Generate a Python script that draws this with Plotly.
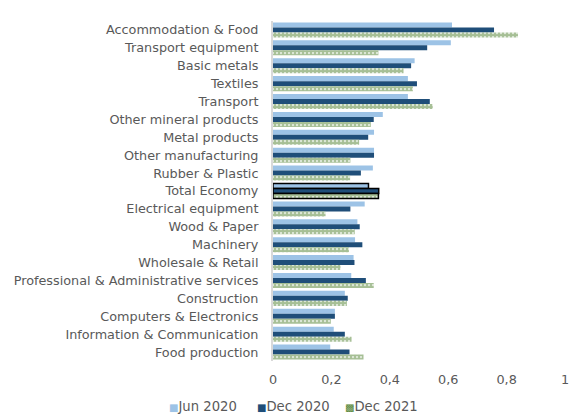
import plotly.graph_objects as go

categories = ["Accommodation & Food", "Transport equipment", "Basic metals", "Textiles", "Transport",
              "Other mineral products", "Metal products", "Other manufacturing", "Rubber & Plastic",
              "Total Economy", "Electrical equipment", "Wood & Paper", "Machinery", "Wholesale & Retail",
              "Professional & Administrative services", "Construction", "Computers & Electronics",
              "Information & Communication", "Food production"]
jun_2020 = [0.613, 0.609, 0.485, 0.462, 0.462, 0.376, 0.346, 0.346, 0.342, 0.327, 0.314, 0.289, 0.281,
            0.276, 0.268, 0.246, 0.212, 0.208, 0.196]
dec_2020 = [0.757, 0.528, 0.473, 0.493, 0.537, 0.345, 0.326, 0.346, 0.301, 0.362, 0.265, 0.297, 0.306,
            0.279, 0.318, 0.256, 0.212, 0.246, 0.262]
dec_2021 = [0.839, 0.361, 0.447, 0.479, 0.547, 0.335, 0.295, 0.265, 0.264, 0.361, 0.180, 0.280, 0.260,
            0.231, 0.345, 0.253, 0.198, 0.269, 0.310]
series_names = ["Jun 2020", "Dec 2020", "Dec 2021"]
x_ticks = [0, 0.2, 0.4, 0.6, 0.8, 1]

C_JUN, C_DEC20, C_DEC21 = "#9DC3E6", "#1F4E79", "#4E7F2C"
TXT = "#595959"
FS = 12.8

highlight = "Total Economy"
line_colors = ["black" if c == highlight else "rgba(0,0,0,0)" for c in categories]
line_widths = [1.5 if c == highlight else 0 for c in categories]

fig = go.Figure()
fig.add_trace(go.Bar(y=categories, x=jun_2020, name=series_names[0], orientation="h",
                     marker=dict(color=C_JUN, line=dict(color=line_colors, width=line_widths))))
fig.add_trace(go.Bar(y=categories, x=dec_2020, name=series_names[1], orientation="h",
                     marker=dict(color=C_DEC20, line=dict(color=line_colors, width=line_widths))))
fig.add_trace(go.Bar(y=categories, x=dec_2021, name=series_names[2], orientation="h",
                     marker=dict(color="white",
                                 pattern=dict(shape=".", fgcolor=C_DEC21, bgcolor="white", size=4, solidity=0.8),
                                 line=dict(color=line_colors, width=line_widths))))

# legend drawn as text annotations (compact, like the original)
legend_items = [(series_names[0], C_JUN, "■", -0.363),
                (series_names[1], C_DEC20, "■", -0.062),
                (series_names[2], C_DEC21, "▩", 0.240)]
for name, col, sym, xpos in legend_items:
    fig.add_annotation(xref="paper", yref="paper", x=xpos, y=-0.135, xanchor="left", yanchor="middle",
                       showarrow=False,
                       text=f"<span style='color:{col};font-size:10px'>{sym}</span>{name}",
                       font=dict(family="DejaVu Sans", size=13.2, color=TXT))

fig.update_layout(
    width=585, height=414,
    margin=dict(l=273, r=20, t=21, b=53),
    paper_bgcolor="white", plot_bgcolor="white",
    barmode="group", bargap=0.16, bargroupgap=0,
    separators=", ",
    font=dict(family="DejaVu Sans", size=FS, color=TXT),
    showlegend=False,
    xaxis=dict(range=[0, 1], tickvals=x_ticks, showgrid=False, zeroline=False, showline=False,
               ticks="", ticklabelstandoff=9, tickfont=dict(size=FS, color=TXT), fixedrange=True),
    yaxis=dict(autorange="reversed", showgrid=False, zeroline=False, showline=True,
               linecolor="#D9D9D9", linewidth=2, ticks="", ticklabelstandoff=10,
               tickfont=dict(size=FS, color=TXT)),
)

fig.write_html("out.html")
